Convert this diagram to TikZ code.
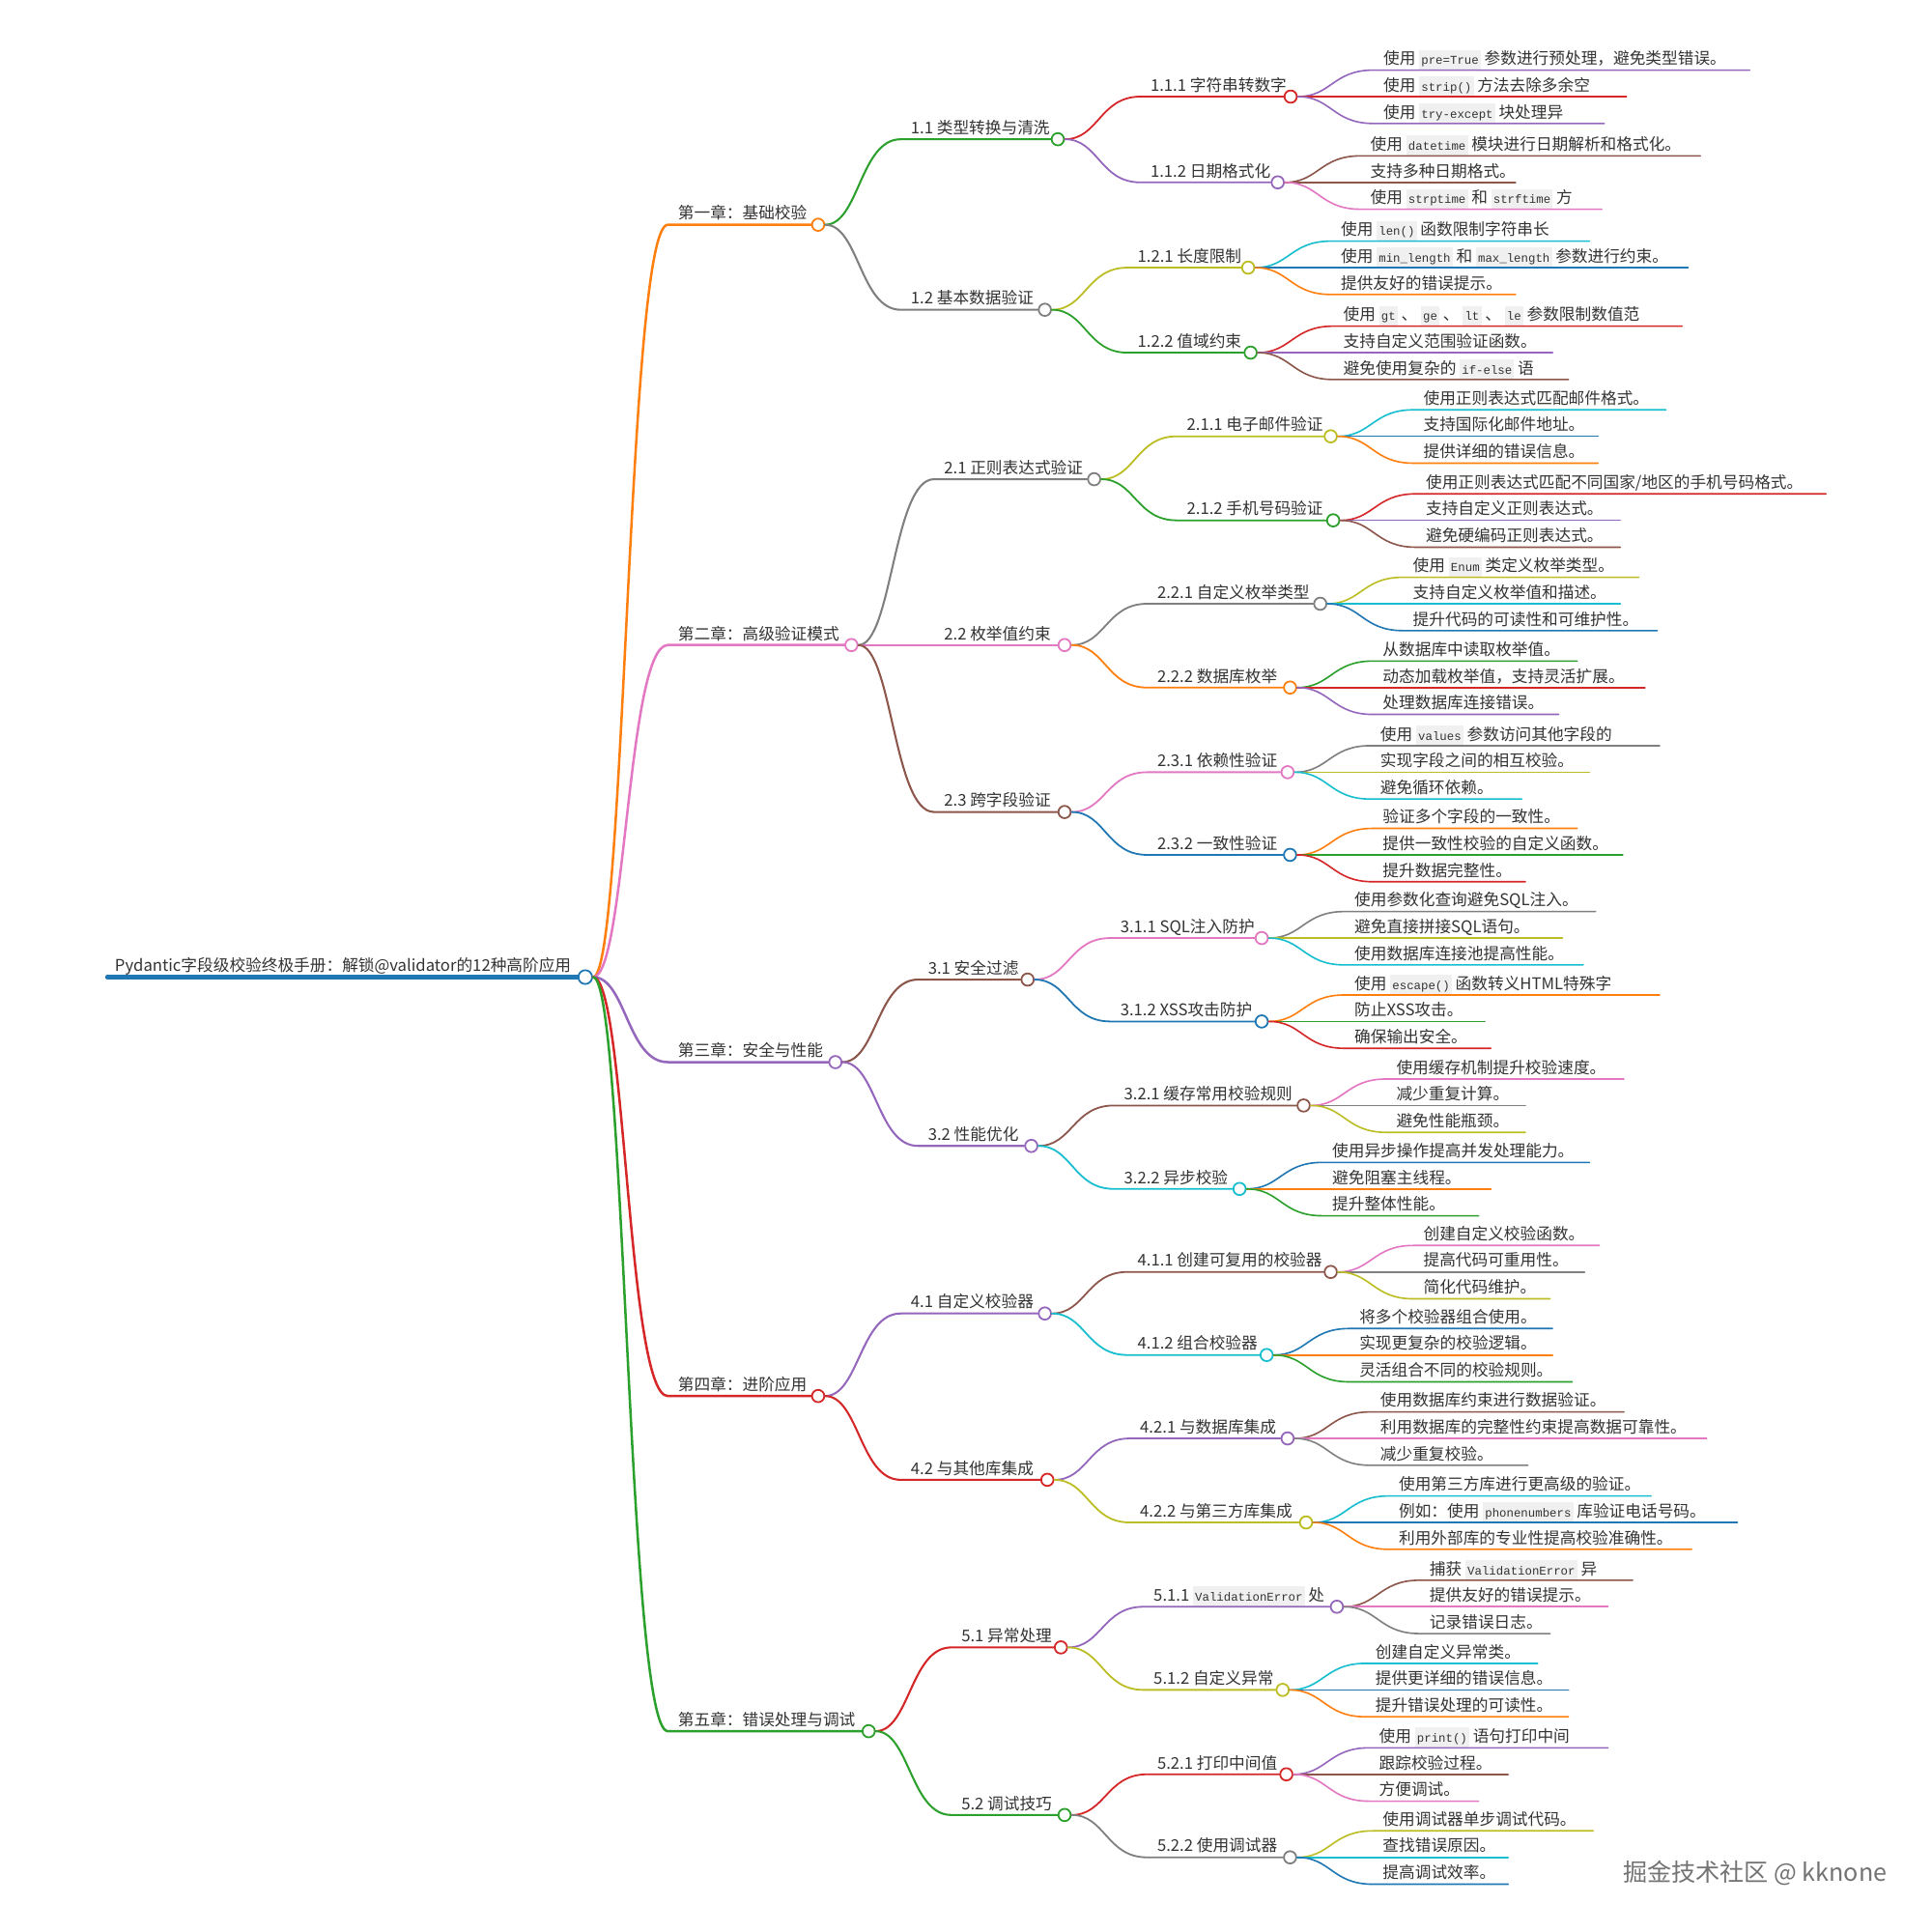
\documentclass[tikz,border=0pt]{standalone}
\usepackage{fontspec}
\setmainfont{Noto Sans CJK SC}
\newfontfamily\codefont{Liberation Mono}
\definecolor{mmblue}{HTML}{1F77B4}
\definecolor{mmorange}{HTML}{FF7F0E}
\definecolor{mmgreen}{HTML}{2CA02C}
\definecolor{mmred}{HTML}{D62728}
\definecolor{mmpurple}{HTML}{9467BD}
\definecolor{mmbrown}{HTML}{8C564B}
\definecolor{mmpink}{HTML}{E377C2}
\definecolor{mmgray}{HTML}{7F7F7F}
\definecolor{mmolive}{HTML}{BCBD22}
\definecolor{mmcyan}{HTML}{17BECF}
\definecolor{ink}{HTML}{333333}
\definecolor{codebg}{HTML}{F0F0F0}
\newcommand{\snip}[1]{{\setlength{\fboxsep}{1.2pt}\colorbox{codebg}{\codefont\fontsize{6.9}{8}\selectfont\rule[-1.7pt]{0pt}{9pt}#1}}}
\tikzset{
  lbl/.style={anchor=base west, inner sep=0pt, text=ink, font=\fontsize{9.3}{10}\selectfont},
  knot/.style={circle, fill=white, inner sep=0pt, minimum size=0.25cm, line width=1pt},
  trunk/.style={line width=2.4pt},
  chap/.style={line width=1.4pt},
  sect/.style={line width=1.15pt},
  subsec/.style={line width=1pt},
  twig/.style={line width=0.9pt}
}
\begin{document}
\begin{tikzpicture}[x=0.025cm, y=-0.025cm, line cap=round, line join=round]
\fill[white] (0,0) rectangle (1568,1568);
\useasboundingbox (0,0) rectangle (1568,1568);
% root
\coordinate (rt-s) at (87,793);
\node[knot, draw=mmblue, minimum size=0.28cm] (rt) at (475,793) {};
\draw[trunk, mmblue] (rt-s) -- (rt);
\node[lbl] (rt-t) at (93,788.5) {Pydantic字段级校验终极手册：解锁@validator的12种高阶应用};
% chapters, sections, sub-sections
\foreach \pa/\nm/\yy/\kx/\cl/\tx/\lw in {
  rt/c1/182.4/664/mmorange/{第一章：基础校验}/chap,
  rt/c2/523.5/691/mmpink/{第二章：高级验证模式}/chap,
  rt/c3/862/678/mmpurple/{第三章：安全与性能}/chap,
  rt/c4/1133/664/mmred/{第四章：进阶应用}/chap,
  rt/c5/1405/705/mmgreen/{第五章：错误处理与调试}/chap,
  c1/s11/113/858.5/mmgreen/{1.1 类型转换与清洗}/sect,
  c1/s12/251.4/848/mmgray/{1.2 基本数据验证}/sect,
  c2/s21/388.9/888/mmgray/{2.1 正则表达式验证}/sect,
  c2/s22/523.5/864/mmpink/{2.2 枚举值约束}/sect,
  c2/s23/659/864/mmbrown/{2.3 跨字段验证}/sect,
  c3/s31/795/834/mmbrown/{3.1 安全过滤}/sect,
  c3/s32/930/837/mmpurple/{3.2 性能优化}/sect,
  c4/s41/1066/848/mmpurple/{4.1 自定义校验器}/sect,
  c4/s42/1201/850/mmred/{4.2 与其他库集成}/sect,
  c5/s51/1337/861/mmred/{5.1 异常处理}/sect,
  c5/s52/1473/864/mmgreen/{5.2 调试技巧}/sect,
  s11/u111/78.4/1047.5/mmred/{1.1.1 字符串转数字}/subsec,
  s11/u112/148/1037/mmpurple/{1.1.2 日期格式化}/subsec,
  s12/u121/217.2/1013/mmolive/{1.2.1 长度限制}/subsec,
  s12/u122/286.2/1015/mmgreen/{1.2.2 值域约束}/subsec,
  s21/u211/354.1/1080/mmolive/{2.1.1 电子邮件验证}/subsec,
  s21/u212/422.3/1082/mmgreen/{2.1.2 手机号码验证}/subsec,
  s22/u221/490/1071.5/mmgray/{2.2.1 自定义枚举类型}/subsec,
  s22/u222/558/1047/mmorange/{2.2.2 数据库枚举}/subsec,
  s23/u231/626.7/1045/mmpink/{2.3.1 依赖性验证}/subsec,
  s23/u232/693.8/1047/mmblue/{2.3.2 一致性验证}/subsec,
  s31/u311/761.3/1024/mmpink/{3.1.1 SQL注入防护}/subsec,
  s31/u312/829/1024/mmblue/{3.1.2 XSS攻击防护}/subsec,
  s32/u321/897.2/1058/mmbrown/{3.2.1 缓存常用校验规则}/subsec,
  s32/u322/964.9/1006/mmcyan/{3.2.2 异步校验}/subsec,
  s41/u411/1032.3/1080/mmbrown/{4.1.1 创建可复用的校验器}/subsec,
  s41/u412/1099.7/1028/mmcyan/{4.1.2 组合校验器}/subsec,
  s42/u421/1167.4/1045/mmpurple/{4.2.1 与数据库集成}/subsec,
  s42/u422/1235.6/1060/mmolive/{4.2.2 与第三方库集成}/subsec,
  s51/u511/1304/1085/mmpurple/{5.1.1 \snip{ValidationError} 处}/subsec,
  s51/u512/1371.5/1041/mmolive/{5.1.2 自定义异常}/subsec,
  s52/u521/1440/1044/mmred/{5.2.1 打印中间值}/subsec,
  s52/u522/1507.4/1047/mmgray/{5.2.2 使用调试器}/subsec}
{
  \coordinate (\nm-y) at (0,\yy);
  \path (\pa |- \nm-y) ++(67,0) coordinate (\nm-s) ++(8,-4.5) node[lbl] (\nm-t) {\tx};
  \node[knot, draw=\cl] (\nm) at (\kx,\yy) {};
  \draw[\lw, \cl] (\pa) .. controls +(33,0) and +(-33,0) .. (\nm-s) -- (\nm);
}
% leaves
\foreach \pa/\off/\ex/\cl/\tx [count=\ii] in {
  u111/-21.5/1420/mmpurple/{使用 \snip{pre=True} 参数进行预处理，避免类型错误。},
  u111/0/1320/mmred/{使用 \snip{strip()} 方法去除多余空},
  u111/21.8/1302/mmpurple/{使用 \snip{try-except} 块处理异},
  u112/-21.5/1380/mmbrown/{使用 \snip{datetime} 模块进行日期解析和格式化。},
  u112/0/1230/mmbrown/{支持多种日期格式。},
  u112/21.8/1300/mmpink/{使用 \snip{strptime} 和 \snip{strftime} 方},
  u121/-21.5/1290/mmcyan/{使用 \snip{len()} 函数限制字符串长},
  u121/0/1370/mmblue/{使用 \snip{min\_length} 和 \snip{max\_length} 参数进行约束。},
  u121/21.8/1230/mmorange/{提供友好的错误提示。},
  u122/-21.5/1365/mmred/{使用 \snip{gt} 、 \snip{ge} 、 \snip{lt} 、 \snip{le} 参数限制数值范},
  u122/0/1260/mmpurple/{支持自定义范围验证函数。},
  u122/21.8/1273/mmbrown/{避免使用复杂的 \snip{if-else} 语},
  u211/-21.5/1352/mmcyan/{使用正则表达式匹配邮件格式。},
  u211/0/1297/mmblue/{支持国际化邮件地址。},
  u211/21.8/1297/mmorange/{提供详细的错误信息。},
  u212/-21.5/1482/mmred/{使用正则表达式匹配不同国家/地区的手机号码格式。},
  u212/0/1315/mmpurple/{支持自定义正则表达式。},
  u212/21.8/1315/mmbrown/{避免硬编码正则表达式。},
  u221/-21.5/1330/mmolive/{使用 \snip{Enum} 类定义枚举类型。},
  u221/0/1315/mmcyan/{支持自定义枚举值和描述。},
  u221/21.8/1345/mmblue/{提升代码的可读性和可维护性。},
  u222/-21.5/1280/mmgreen/{从数据库中读取枚举值。},
  u222/0/1335/mmred/{动态加载枚举值，支持灵活扩展。},
  u222/21.8/1265/mmpurple/{处理数据库连接错误。},
  u231/-21.5/1347/mmgray/{使用 \snip{values} 参数访问其他字段的},
  u231/0/1290/mmolive/{实现字段之间的相互校验。},
  u231/21.8/1235/mmcyan/{避免循环依赖。},
  u232/-21.5/1280/mmorange/{验证多个字段的一致性。},
  u232/0/1317/mmgreen/{提供一致性校验的自定义函数。},
  u232/21.8/1238/mmred/{提升数据完整性。},
  u311/-21.5/1295/mmgray/{使用参数化查询避免SQL注入。},
  u311/0/1268/mmolive/{避免直接拼接SQL语句。},
  u311/21.8/1285/mmcyan/{使用数据库连接池提高性能。},
  u312/-21.5/1347/mmorange/{使用 \snip{escape()} 函数转义HTML特殊字},
  u312/0/1205/mmgreen/{防止XSS攻击。},
  u312/21.8/1210/mmred/{确保输出安全。},
  u321/-21.5/1318/mmpink/{使用缓存机制提升校验速度。},
  u321/0/1238/mmgray/{减少重复计算。},
  u321/21.8/1238/mmolive/{避免性能瓶颈。},
  u322/-21.5/1290/mmblue/{使用异步操作提高并发处理能力。},
  u322/0/1210/mmorange/{避免阻塞主线程。},
  u322/21.8/1200/mmgreen/{提升整体性能。},
  u411/-21.5/1298/mmpink/{创建自定义校验函数。},
  u411/0/1286/mmgray/{提高代码可重用性。},
  u411/21.8/1258/mmolive/{简化代码维护。},
  u412/-21.5/1260/mmblue/{将多个校验器组合使用。},
  u412/0/1260/mmorange/{实现更复杂的校验逻辑。},
  u412/21.8/1276/mmgreen/{灵活组合不同的校验规则。},
  u421/-21.5/1318/mmbrown/{使用数据库约束进行数据验证。},
  u421/0/1385/mmpink/{利用数据库的完整性约束提高数据可靠性。},
  u421/21.8/1240/mmgray/{减少重复校验。},
  u422/-21.5/1340/mmcyan/{使用第三方库进行更高级的验证。},
  u422/0/1410/mmblue/{例如：使用 \snip{phonenumbers} 库验证电话号码。},
  u422/21.8/1373/mmorange/{利用外部库的专业性提高校验准确性。},
  u511/-21.5/1325/mmbrown/{捕获 \snip{ValidationError} 异},
  u511/0/1305/mmpink/{提供友好的错误提示。},
  u511/21.8/1258/mmgray/{记录错误日志。},
  u512/-21.5/1248/mmcyan/{创建自定义异常类。},
  u512/0/1273/mmblue/{提供更详细的错误信息。},
  u512/21.8/1273/mmorange/{提升错误处理的可读性。},
  u521/-21.5/1305/mmpurple/{使用 \snip{print()} 语句打印中间},
  u521/0/1224/mmbrown/{跟踪校验过程。},
  u521/21.8/1200/mmpink/{方便调试。},
  u522/-21.5/1293/mmolive/{使用调试器单步调试代码。},
  u522/0/1224/mmcyan/{查找错误原因。},
  u522/21.8/1224/mmblue/{提高调试效率。}}
{
  \path (\pa) ++(67,\off) coordinate (lf\ii-s) ++(8,-4.5) node[lbl] (lf\ii) {\tx};
  \coordinate (lf\ii-x) at (\ex,0);
  \coordinate (lf\ii-e) at (lf\ii-s -| lf\ii-x);
  \draw[twig, \cl] (\pa) .. controls +(33,0) and +(-33,0) .. (lf\ii-s) -- (lf\ii-e);
}
% watermark
\node[anchor=base west, inner sep=0pt, text=black!55, font=\fontsize{14}{16}\selectfont] (mark) at (1317,1527) {掘金技术社区 @ kknone};
\end{tikzpicture}
\end{document}
